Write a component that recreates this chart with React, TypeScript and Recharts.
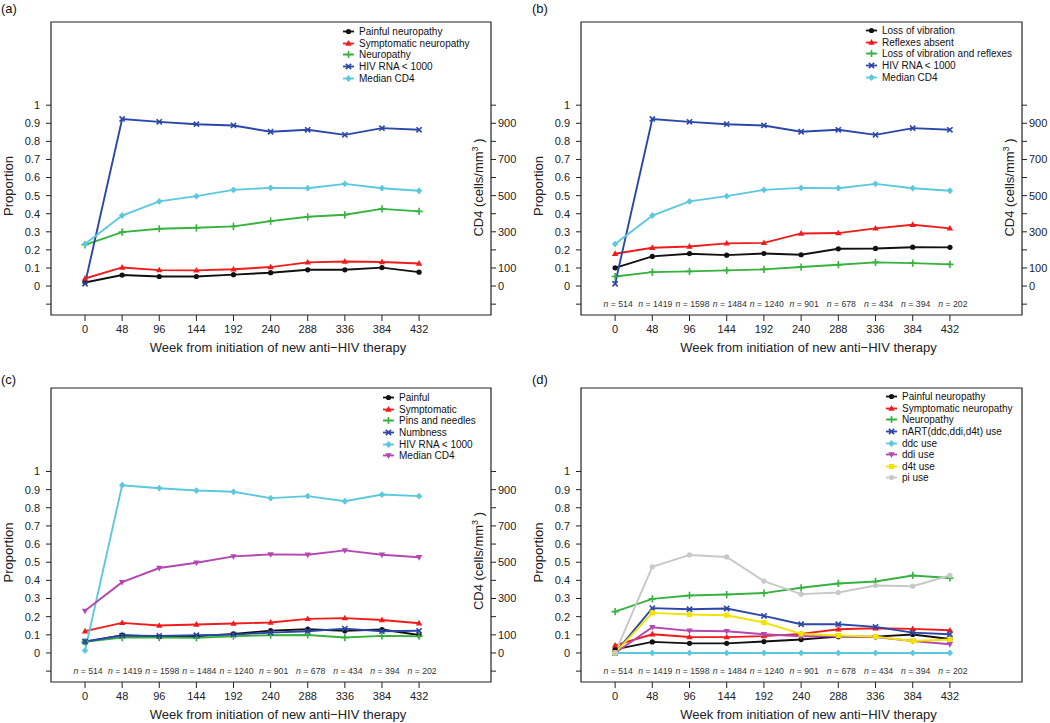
import {
  LineChart,
  Line,
  XAxis,
  YAxis,
  ReferenceArea,
  ReferenceDot,
  Legend,
  Label,
} from "recharts";

const weeks = [0, 48, 96, 144, 192, 240, 288, 336, 384, 432];
const nCounts = [514, 1419, 1598, 1484, 1240, 901, 678, 434, 394, 202];
const propTicks = [-0.1, 0, 0.1, 0.2, 0.3, 0.4, 0.5, 0.6, 0.7, 0.8, 0.9, 1];
const cd4Ticks = [-100, 0, 100, 200, 300, 400, 500, 600, 700, 800, 900, 1000];
const cd4Labels = [0, 100, 300, 500, 700, 900];

// (a) and (d)
const painful = [0.02, 0.061, 0.053, 0.053, 0.063, 0.074, 0.09, 0.09, 0.102, 0.077];
const symptomatic = [0.042, 0.103, 0.088, 0.087, 0.093, 0.105, 0.131, 0.136, 0.133, 0.125];
const neuropathy = [0.228, 0.298, 0.317, 0.322, 0.33, 0.359, 0.383, 0.394, 0.427, 0.413];
// (a), (b), (c)
const hivRna = [0.013, 0.924, 0.908, 0.895, 0.888, 0.853, 0.864, 0.836, 0.873, 0.864];
const medianCd4 = [232, 390, 468, 497, 532, 543, 541, 565, 541, 527];
// (b)
const lossVibration = [0.101, 0.164, 0.179, 0.171, 0.18, 0.173, 0.206, 0.208, 0.215, 0.214];
const reflexesAbsent = [0.179, 0.212, 0.219, 0.236, 0.239, 0.291, 0.293, 0.319, 0.339, 0.319];
const lossBoth = [0.053, 0.077, 0.081, 0.087, 0.092, 0.105, 0.118, 0.131, 0.127, 0.12];
// (c)
const painfulSym = [0.061, 0.098, 0.09, 0.092, 0.105, 0.123, 0.131, 0.122, 0.129, 0.099];
const symptomaticSym = [0.12, 0.166, 0.151, 0.157, 0.162, 0.168, 0.188, 0.192, 0.182, 0.164];
const pinsNeedles = [0.061, 0.085, 0.085, 0.083, 0.092, 0.098, 0.099, 0.085, 0.094, 0.092];
const numbness = [0.063, 0.096, 0.094, 0.098, 0.101, 0.112, 0.12, 0.134, 0.12, 0.122];
// (d)
const nartUse = [0, 0.247, 0.241, 0.245, 0.204, 0.158, 0.158, 0.144, 0.112, 0.103];
const ddcUse = [0, 0, 0, 0, 0, 0, 0, 0, 0, 0];
const ddiUse = [0, 0.142, 0.122, 0.12, 0.103, 0.092, 0.092, 0.087, 0.066, 0.048];
const d4tUse = [0, 0.221, 0.212, 0.208, 0.168, 0.105, 0.096, 0.09, 0.066, 0.074];
const piUse = [0, 0.475, 0.54, 0.529, 0.396, 0.324, 0.333, 0.372, 0.368, 0.427];

const table = weeks.map((week, i) => ({
  week,
  painful: painful[i],
  symptomatic: symptomatic[i],
  neuropathy: neuropathy[i],
  hivRna: hivRna[i],
  medianCd4: medianCd4[i],
  lossVibration: lossVibration[i],
  reflexesAbsent: reflexesAbsent[i],
  lossBoth: lossBoth[i],
  painfulSym: painfulSym[i],
  symptomaticSym: symptomaticSym[i],
  pinsNeedles: pinsNeedles[i],
  numbness: numbness[i],
  nartUse: nartUse[i],
  ddcUse: ddcUse[i],
  ddiUse: ddiUse[i],
  d4tUse: d4tUse[i],
  piUse: piUse[i],
}));

const INK = "#222";
const BLACK = "#111";
const RED = "#f01c1c";
const GREEN = "#36b23e";
const BLUE = "#2b47a8";
const CYAN = "#5cc8dd";
const MAGENTA = "#b248b0";
const YELLOW = "#f2e400";
const GREY = "#c8c8c8";
const FONT = "'Liberation Sans', Arial, sans-serif";

type Shape = "circle" | "triangle" | "down" | "plus" | "cross" | "diamond" | "square";
type Series = { key: string; name: string; color: string; shape: Shape; axis?: "right" };

function Marker({ shape, color, cx, cy }: { shape: Shape; color: string; cx: number; cy: number }) {
  if (cx == null || cy == null) return null;
  switch (shape) {
    case "circle":
      return <circle cx={cx} cy={cy} r={2.6} fill={color} />;
    case "triangle":
      return <path d={`M${cx},${cy - 3.4}L${cx + 3.2},${cy + 2.2}L${cx - 3.2},${cy + 2.2}Z`} fill={color} />;
    case "down":
      return <path d={`M${cx},${cy + 3.4}L${cx + 3.2},${cy - 2.2}L${cx - 3.2},${cy - 2.2}Z`} fill={color} />;
    case "plus":
      return (
        <path d={`M${cx - 3.6},${cy}H${cx + 3.6}M${cx},${cy - 3.6}V${cy + 3.6}`} stroke={color} strokeWidth={1.6} />
      );
    case "cross":
      return (
        <path
          d={`M${cx - 2.6},${cy - 2.6}L${cx + 2.6},${cy + 2.6}M${cx - 2.6},${cy + 2.6}L${cx + 2.6},${cy - 2.6}`}
          stroke={color}
          strokeWidth={1.6}
        />
      );
    case "diamond":
      return <path d={`M${cx},${cy - 3.4}L${cx + 3.2},${cy}L${cx},${cy + 3.4}L${cx - 3.2},${cy}Z`} fill={color} />;
    case "square":
      return <rect x={cx - 2.6} y={cy - 2.6} width={5.2} height={5.2} fill={color} />;
  }
  return null;
}

const panelA: Series[] = [
  { key: "painful", name: "Painful neuropathy", color: BLACK, shape: "circle" },
  { key: "symptomatic", name: "Symptomatic neuropathy", color: RED, shape: "triangle" },
  { key: "neuropathy", name: "Neuropathy", color: GREEN, shape: "plus" },
  { key: "hivRna", name: "HIV RNA < 1000", color: BLUE, shape: "cross" },
  { key: "medianCd4", name: "Median CD4", color: CYAN, shape: "diamond", axis: "right" },
];
const panelB: Series[] = [
  { key: "lossVibration", name: "Loss of vibration", color: BLACK, shape: "circle" },
  { key: "reflexesAbsent", name: "Reflexes absent", color: RED, shape: "triangle" },
  { key: "lossBoth", name: "Loss of vibration and reflexes", color: GREEN, shape: "plus" },
  { key: "hivRna", name: "HIV RNA < 1000", color: BLUE, shape: "cross" },
  { key: "medianCd4", name: "Median CD4", color: CYAN, shape: "diamond", axis: "right" },
];
const panelC: Series[] = [
  { key: "painfulSym", name: "Painful", color: BLACK, shape: "circle" },
  { key: "symptomaticSym", name: "Symptomatic", color: RED, shape: "triangle" },
  { key: "pinsNeedles", name: "Pins and needles", color: GREEN, shape: "plus" },
  { key: "numbness", name: "Numbness", color: BLUE, shape: "cross" },
  { key: "hivRna", name: "HIV RNA < 1000", color: CYAN, shape: "diamond" },
  { key: "medianCd4", name: "Median CD4", color: MAGENTA, shape: "down", axis: "right" },
];
const panelD: Series[] = [
  { key: "painful", name: "Painful neuropathy", color: BLACK, shape: "circle" },
  { key: "symptomatic", name: "Symptomatic neuropathy", color: RED, shape: "triangle" },
  { key: "neuropathy", name: "Neuropathy", color: GREEN, shape: "plus" },
  { key: "nartUse", name: "nART(ddc,ddi,d4t) use", color: BLUE, shape: "cross" },
  { key: "ddcUse", name: "ddc use", color: CYAN, shape: "diamond" },
  { key: "ddiUse", name: "ddi use", color: MAGENTA, shape: "down" },
  { key: "d4tUse", name: "d4t use", color: YELLOW, shape: "square" },
  { key: "piUse", name: "pi use", color: GREY, shape: "circle" },
];

function LegendBox({ series }: { series: Series[] }) {
  return (
    <div style={{ fontFamily: FONT, fontSize: 10, color: BLACK }}>
      {series.map((s) => (
        <div key={s.key} style={{ height: 11.6, display: "flex", alignItems: "center", whiteSpace: "nowrap" }}>
          <svg width={16} height={11} style={{ flex: "none" }}>
            <line x1={0} y1={5.5} x2={11} y2={5.5} stroke={s.color} strokeWidth={1.8} />
            <Marker shape={s.shape} color={s.color} cx={5.5} cy={5.5} />
          </svg>
          <span>{s.name}</span>
        </div>
      ))}
    </div>
  );
}

type PanelProps = {
  tag: string;
  series: Series[];
  left: number;
  top: number;
  height: number;
  margin: { top: number; right: number; bottom: number; left: number };
  hasRight: boolean;
  showN: boolean;
  legendAt: { left: number; top: number };
  tagAt: { left: number; top: number };
  cd4Dy: number;
};

function Panel({ tag, series, left, top, height, margin, hasRight, showN, legendAt, tagAt, cd4Dy }: PanelProps) {
  return (
    <div style={{ position: "absolute", left, top, width: 525, height, fontFamily: FONT }}>
      <LineChart width={525} height={height} data={table} margin={margin}>
        <XAxis
          type="number"
          dataKey="week"
          domain={[-44, 525]}
          ticks={weeks}
          interval={0}
          allowDataOverflow
          axisLine={false}
          tickLine={{ stroke: INK }}
          tickSize={6}
          tickMargin={4}
          tick={{ fontSize: 11, fill: INK }}
          height={40}
        >
          <Label
            content={(p: any) => (
              <text
                x={p.viewBox.x + p.viewBox.width / 2 + 7}
                y={p.viewBox.y + 37}
                textAnchor="middle"
                fontSize={13}
                fill={INK}
              >
                Week from initiation of new anti−HIV therapy
              </text>
            )}
          />
        </XAxis>
        <YAxis
          yAxisId="left"
          domain={[-0.16, 1.46]}
          ticks={propTicks}
          interval={0}
          allowDataOverflow
          axisLine={false}
          tickLine={{ stroke: INK }}
          tickSize={5}
          tickMargin={6}
          tick={{ fontSize: 11, fill: INK }}
          tickFormatter={(v: number) => (v < 0 ? "" : String(+v.toFixed(1)))}
          width={40}
        >
          <Label
            content={(p: any) => {
              const x = p.viewBox.x + p.viewBox.width - 38.5;
              const y = p.viewBox.y + p.viewBox.height / 2 + 17.5;
              return (
                <text x={x} y={y} textAnchor="middle" fontSize={13} fill={INK} transform={`rotate(-90, ${x}, ${y})`}>
                  Proportion
                </text>
              );
            }}
          />
        </YAxis>
        {hasRight && (
          <YAxis
            yAxisId="right"
            orientation="right"
            domain={[-160, 1460]}
            ticks={cd4Ticks}
            interval={0}
            allowDataOverflow
            axisLine={false}
            tickLine={{ stroke: INK }}
            tickSize={5}
            tickMargin={2}
            tick={{ fontSize: 11, fill: INK }}
            tickFormatter={(v: number) => (cd4Labels.includes(v) ? String(v) : "")}
            width={margin.left > 12 ? 24 : 30}
          >
            <Label
              content={(p: any) => {
                const x = p.viewBox.x - 8;
                const y = p.viewBox.y + p.viewBox.height / 2 + cd4Dy;
                return (
                  <text x={x} y={y} textAnchor="middle" fontSize={13} fill={INK} transform={`rotate(-90, ${x}, ${y})`}>
                    CD4 (cells/mm
                    <tspan dy={-5} fontSize={9}>
                      3
                    </tspan>
                    <tspan dy={5}> )</tspan>
                  </text>
                );
              }}
            />
          </YAxis>
        )}
        <ReferenceArea
          yAxisId="left"
          x1={-44}
          x2={525}
          y1={-0.16}
          y2={1.46}
          fill="none"
          stroke={INK}
          strokeWidth={1.2}
          fillOpacity={0}
        />
        {showN &&
          weeks.map((w, i) => (
            <ReferenceDot
              key={`n-${w}`}
              yAxisId="left"
              x={w}
              y={-0.1}
              r={0}
              fill="none"
              stroke="none"
              label={{
                content: (p: any) => (
                  <text x={p.viewBox.x + 3} y={p.viewBox.y + 3} textAnchor="middle" fontSize={8.7} fill="#333">
                    <tspan fontStyle="italic">n</tspan>
                    {` = ${nCounts[i]}`}
                  </text>
                ),
              }}
            />
          ))}
        {series.map((s) => (
          <Line
            key={s.key}
            yAxisId={s.axis === "right" ? "right" : "left"}
            dataKey={s.key}
            name={s.name}
            stroke={s.color}
            strokeWidth={1.9}
            type="linear"
            dot={(p: any) => <Marker key={`${s.key}-${p.index}`} shape={s.shape} color={s.color} cx={p.cx} cy={p.cy} />}
            activeDot={false}
            isAnimationActive={false}
          />
        ))}
        <Legend
          layout="vertical"
          align="center"
          verticalAlign="middle"
          wrapperStyle={{ left: legendAt.left, top: legendAt.top, width: 180, height: "auto" }}
          content={() => <LegendBox series={series} />}
        />
      </LineChart>
      <div
        style={{
          position: "absolute",
          left: tagAt.left,
          top: tagAt.top,
          fontSize: 13,
          lineHeight: "15px",
          color: BLACK,
        }}
      >
        {tag}
      </div>
    </div>
  );
}

export default function App() {
  return (
    <div style={{ position: "absolute", left: 0, top: 0, width: 1050, height: 723, background: "#fff", overflow: "hidden" }}>
      <Panel
        tag="(a)"
        series={panelA}
        left={0}
        top={0}
        height={360}
        margin={{ top: 22, right: 4, bottom: 5, left: 11 }}
        hasRight
        showN={false}
        legendAt={{ left: 343, top: 26 }}
        tagAt={{ left: 1, top: 1 }}
        cd4Dy={19}
      />
      <Panel
        tag="(b)"
        series={panelB}
        left={525}
        top={0}
        height={360}
        margin={{ top: 22, right: 4, bottom: 5, left: 16 }}
        hasRight
        showN
        legendAt={{ left: 341, top: 25 }}
        tagAt={{ left: 7, top: 1 }}
        cd4Dy={19}
      />
      <Panel
        tag="(c)"
        series={panelC}
        left={0}
        top={360}
        height={363}
        margin={{ top: 28, right: 4, bottom: 1, left: 11 }}
        hasRight
        showN
        legendAt={{ left: 383, top: 32 }}
        tagAt={{ left: 1, top: 12 }}
        cd4Dy={26}
      />
      <Panel
        tag="(d)"
        series={panelD}
        left={525}
        top={360}
        height={363}
        margin={{ top: 28, right: 28, bottom: 1, left: 16 }}
        hasRight={false}
        showN
        legendAt={{ left: 361, top: 31 }}
        tagAt={{ left: 7, top: 12 }}
        cd4Dy={0}
      />
    </div>
  );
}
